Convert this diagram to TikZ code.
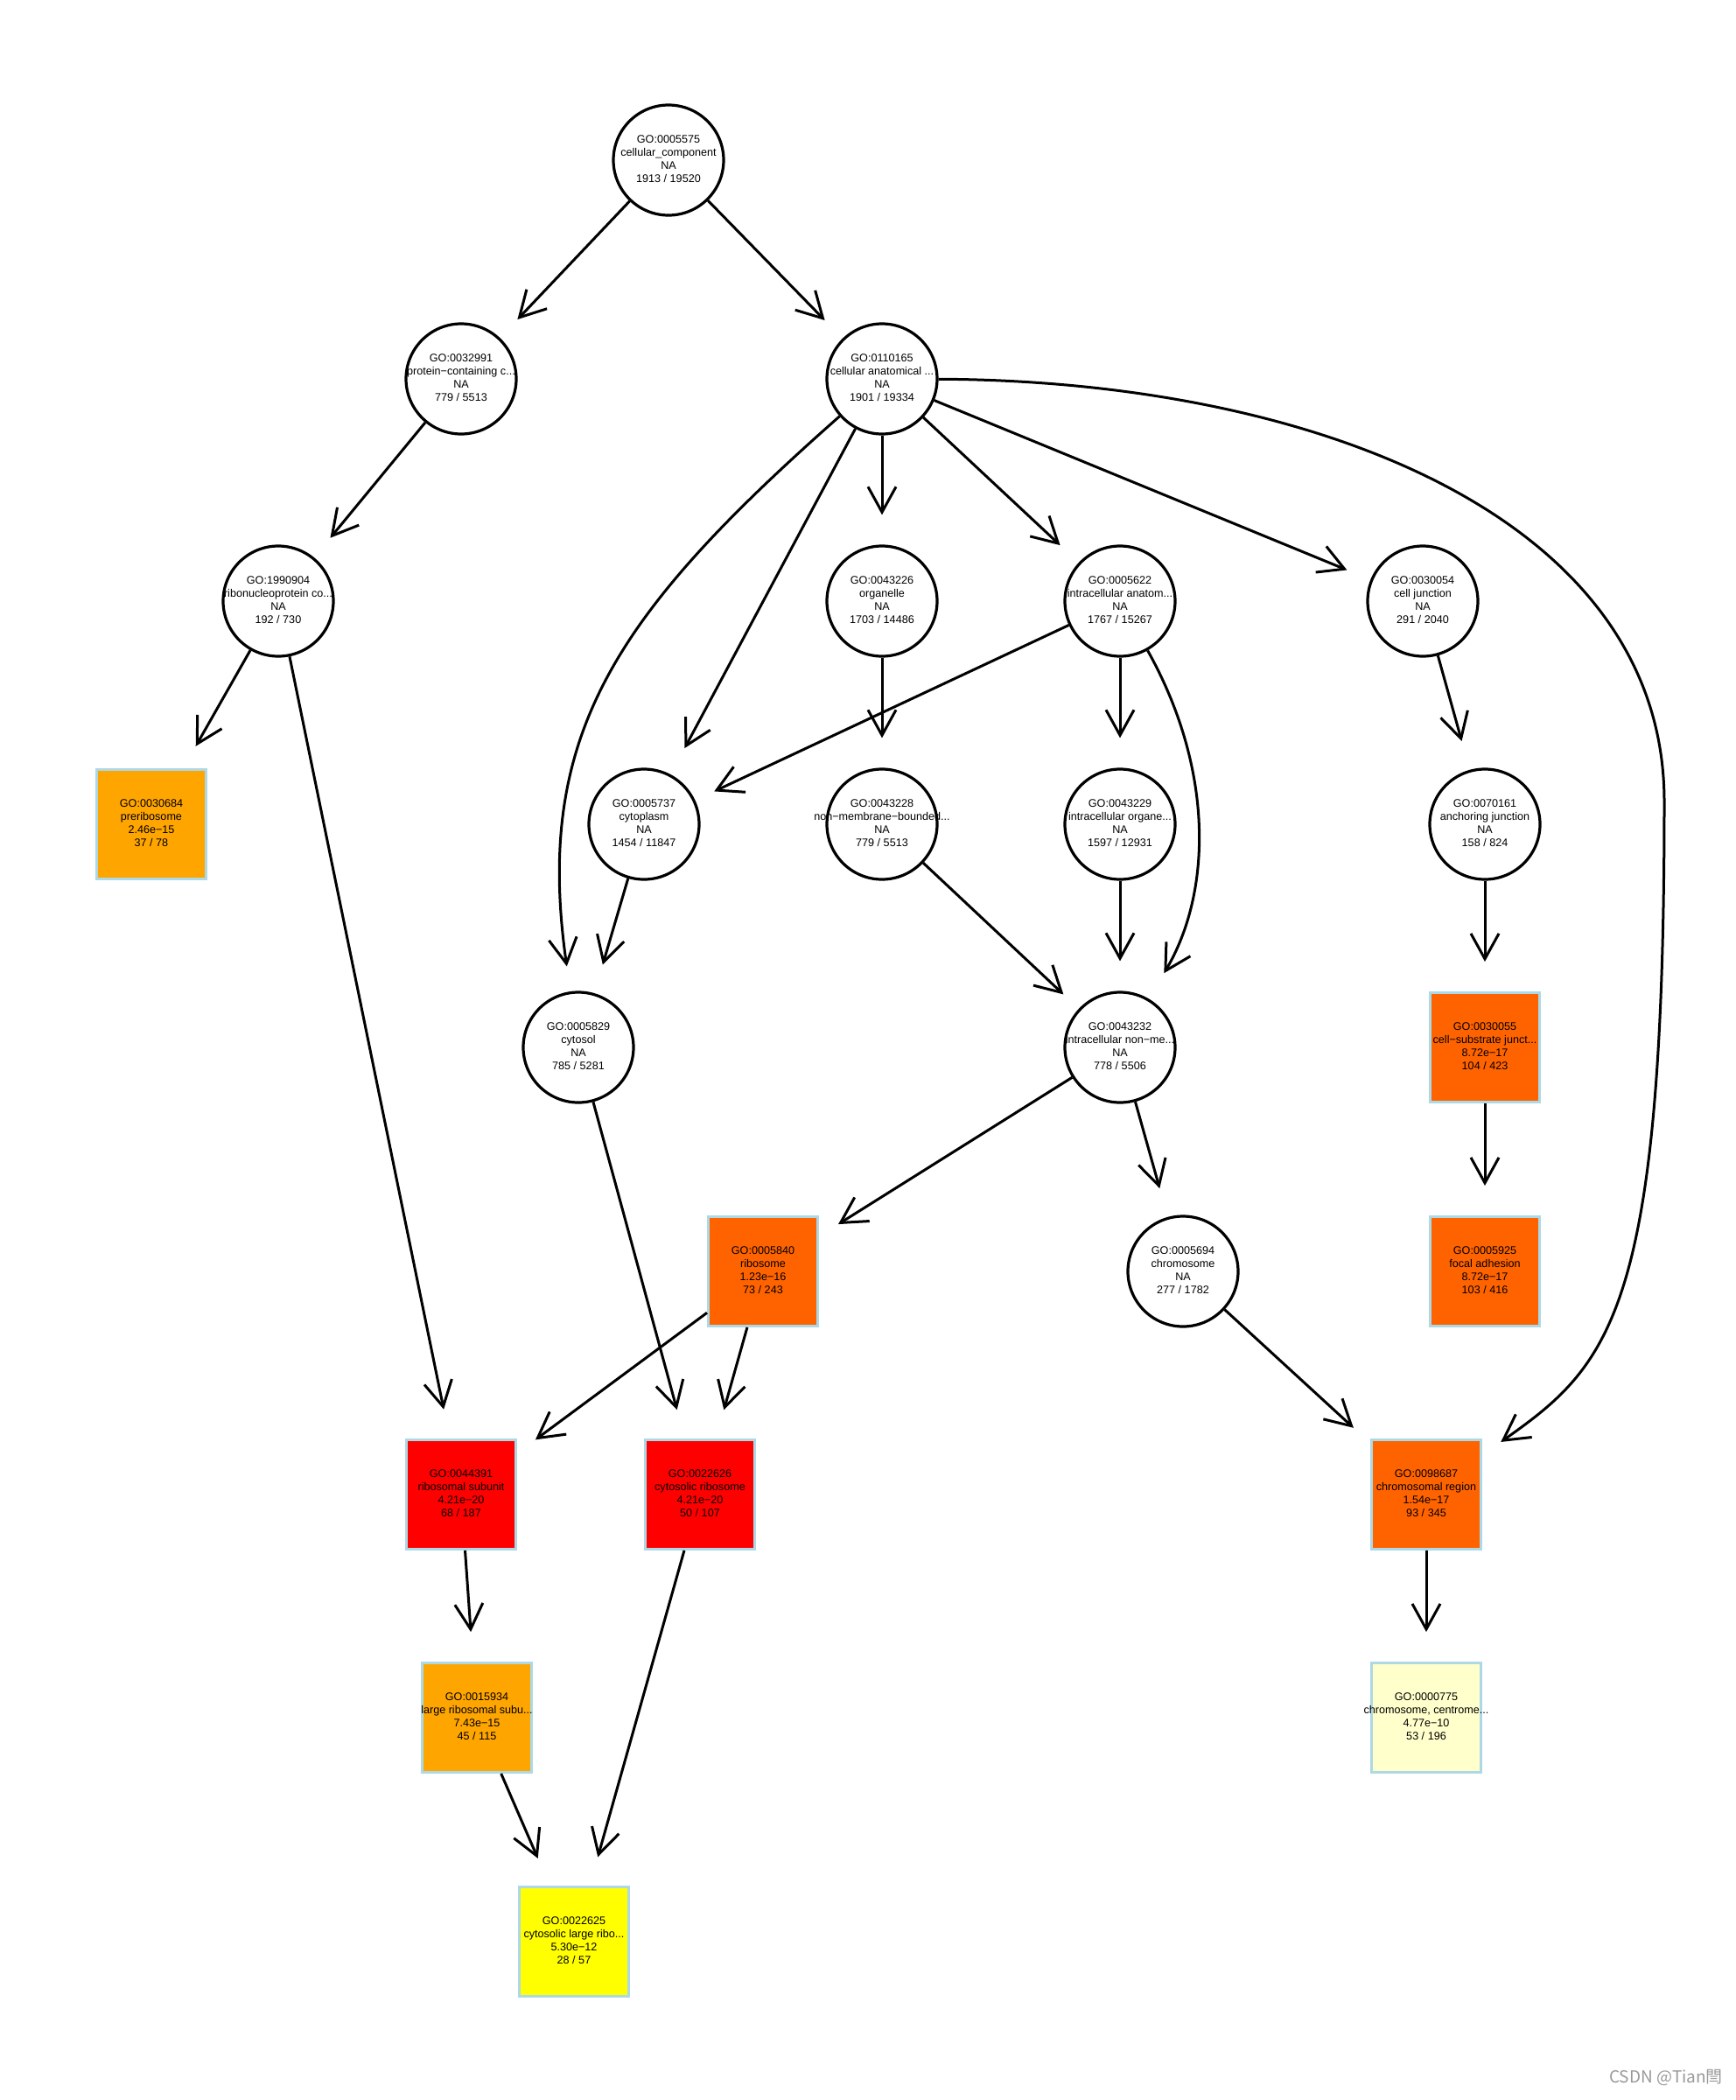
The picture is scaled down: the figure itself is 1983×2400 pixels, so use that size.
\documentclass[tikz,border=0pt]{standalone}
\usepackage{fontspec}
\setmainfont{Liberation Sans}
\newfontfamily\cjkfont{Noto Sans CJK SC}
\usetikzlibrary{arrows.meta}
\definecolor{goorange}{HTML}{FFA500}
\definecolor{godark}{HTML}{FF6300}
\definecolor{gored}{HTML}{FF0000}
\definecolor{goyellow}{HTML}{FFFF00}
\definecolor{golight}{HTML}{FFFFCC}
\definecolor{goborder}{HTML}{ADD8E6}
\newcommand\golbl[4]{\raisebox{2pt}{\makebox[0pt]{\begin{tabular}{@{}c@{}}#1\\#2\\#3\\#4\end{tabular}}}}
\begin{document}
\begin{tikzpicture}[x=0.5pt,y=-0.5pt,
  gotext/.style={font=\fontsize{6.3}{7.5}\selectfont},
  gocirc/.style={gotext, circle, draw=black, line width=1.6pt, fill=white, minimum size=63pt, inner sep=0pt},
  gosq/.style={gotext, rectangle, draw=goborder, line width=1.5pt, fill=#1, minimum size=62.5pt, inner sep=0pt},
  goedge/.style={line width=1.5pt, -{Straight Barb[length=14.5pt,width=16pt]}, shorten >=14.5pt},
  steep/.style={shorten >=17pt}]
\fill[white] (0,0) rectangle (1983,2400);
\useasboundingbox (0,0) rectangle (1983,2400);

% row 0
\node[gocirc] (n5575) at (764,183) {\golbl{GO:0005575}{cellular\_component}{NA}{1913 / 19520}};
% row 1
\node[gocirc] (n32991) at (527,433) {\golbl{GO:0032991}{protein−containing c...}{NA}{779 / 5513}};
\node[gocirc] (n110165) at (1008,433) {\golbl{GO:0110165}{cellular anatomical ...}{NA}{1901 / 19334}};
% row 2
\node[gocirc] (n1990904) at (318,687) {\golbl{GO:1990904}{ribonucleoprotein co...}{NA}{192 / 730}};
\node[gocirc] (n43226) at (1008,687) {\golbl{GO:0043226}{organelle}{NA}{1703 / 14486}};
\node[gocirc] (n5622) at (1280,687) {\golbl{GO:0005622}{intracellular anatom...}{NA}{1767 / 15267}};
\node[gocirc] (n30054) at (1626,687) {\golbl{GO:0030054}{cell junction}{NA}{291 / 2040}};
% row 3
\node[gosq=goorange] (n30684) at (173,942) {\golbl{GO:0030684}{preribosome}{2.46e−15}{37 / 78}};
\node[gocirc] (n5737) at (736,942) {\golbl{GO:0005737}{cytoplasm}{NA}{1454 / 11847}};
\node[gocirc] (n43228) at (1008,942) {\golbl{GO:0043228}{non−membrane−bounded...}{NA}{779 / 5513}};
\node[gocirc] (n43229) at (1280,942) {\golbl{GO:0043229}{intracellular organe...}{NA}{1597 / 12931}};
\node[gocirc] (n70161) at (1697,942) {\golbl{GO:0070161}{anchoring junction}{NA}{158 / 824}};
% row 4
\node[gocirc] (n5829) at (661,1197) {\golbl{GO:0005829}{cytosol}{NA}{785 / 5281}};
\node[gocirc] (n43232) at (1280,1197) {\golbl{GO:0043232}{intracellular non−me...}{NA}{778 / 5506}};
\node[gosq=godark] (n30055) at (1697,1197) {\golbl{GO:0030055}{cell−substrate junct...}{8.72e−17}{104 / 423}};
% row 5
\node[gosq=godark] (n5840) at (872,1453) {\golbl{GO:0005840}{ribosome}{1.23e−16}{73 / 243}};
\node[gocirc] (n5694) at (1352,1453) {\golbl{GO:0005694}{chromosome}{NA}{277 / 1782}};
\node[gosq=godark] (n5925) at (1697,1453) {\golbl{GO:0005925}{focal adhesion}{8.72e−17}{103 / 416}};
% row 6
\node[gosq=gored] (n44391) at (527,1708) {\golbl{GO:0044391}{ribosomal subunit}{4.21e−20}{68 / 187}};
\node[gosq=gored] (n22626) at (800,1708) {\golbl{GO:0022626}{cytosolic ribosome}{4.21e−20}{50 / 107}};
\node[gosq=godark] (n98687) at (1630,1708) {\golbl{GO:0098687}{chromosomal region}{1.54e−17}{93 / 345}};
% row 7
\node[gosq=goorange] (n15934) at (545,1963) {\golbl{GO:0015934}{large ribosomal subu...}{7.43e−15}{45 / 115}};
\node[gosq=golight] (n775) at (1630,1963) {\golbl{GO:0000775}{chromosome, centrome...}{4.77e−10}{53 / 196}};
% row 8
\node[gosq=goyellow] (n22625) at (656,2219) {\golbl{GO:0022625}{cytosolic large ribo...}{5.30e−12}{28 / 57}};

% edges
\draw[goedge] (n5575) -- (n32991);
\draw[goedge] (n5575) -- (n110165);
\draw[goedge] (n32991) -- (n1990904);
\draw[goedge] (n110165) .. controls (703,702) and (610,840) .. (n5829);
\draw[goedge,steep] (n110165) -- (n5737);
\draw[goedge,steep] (n110165) -- (n43226);
\draw[goedge] (n110165) -- (n5622);
\draw[goedge] (n110165) -- (n30054);
\coordinate (bend) at (1902,916);
\draw[goedge,shorten >=13pt] (n110165) .. controls (1500,435) and (1902,590) .. (bend)
      .. controls (1902,1500) and (1840,1560) .. (n98687);
\draw[goedge] (n1990904) -- (n30684);
\draw[goedge,steep] (n1990904) -- (n44391);
\draw[goedge,steep] (n43226) -- (n43228);
\draw[goedge,shorten >=12pt] (n5622) -- (n5737);
\draw[goedge,steep] (n5622) -- (n43229);
\draw[goedge,steep] (n5622) .. controls (1388,880) and (1385,1020) .. (n43232);
\draw[goedge,steep] (n30054) -- (n70161);
\draw[goedge,steep] (n5737) -- (n5829);
\draw[goedge,shorten >=12pt] (n43228) -- (n43232);
\draw[goedge,steep] (n43229) -- (n43232);
\draw[goedge,steep] (n70161) -- (n30055);
\draw[goedge,steep] (n5829) -- (n22626);
\draw[goedge,shorten >=13pt] (n43232) -- (n5840);
\draw[goedge,steep] (n43232) -- (n5694);
\draw[goedge,steep] (n30055) -- (n5925);
\draw[goedge,shorten >=13pt] (n5840) -- (n44391);
\draw[goedge,steep] (n5840) -- (n22626);
\draw[goedge,shorten >=13pt] (n5694) -- (n98687);
\draw[goedge,steep] (n44391) -- (n15934);
\draw[goedge,steep] (n22626) -- (n22625);
\draw[goedge,steep] (n15934) -- (n22625);
\draw[goedge,steep] (n98687) -- (n775);

\node[font=\cjkfont\fontsize{9.5}{11}\selectfont, text=black!40, inner sep=0pt] (wm) at (1904,2375) {CSDN @Tian閆};
\end{tikzpicture}
\end{document}
